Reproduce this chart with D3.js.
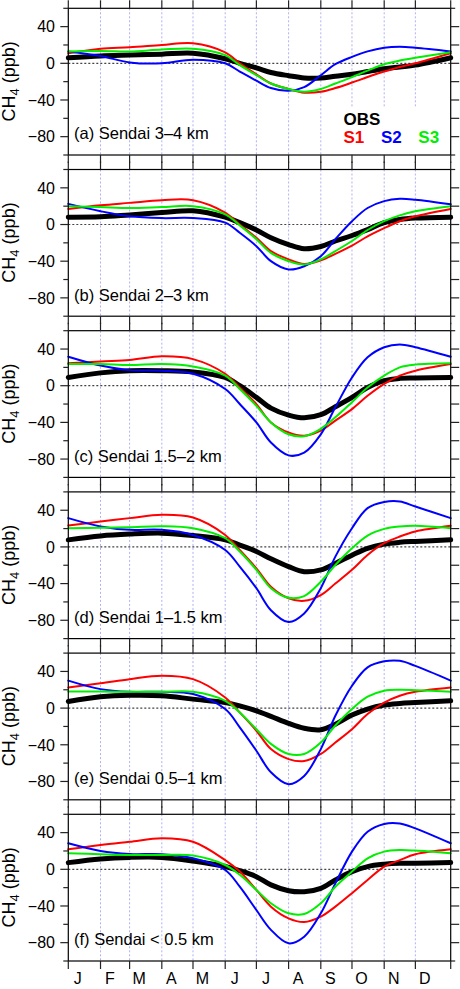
<!DOCTYPE html>
<html>
<head>
<meta charset="utf-8">
<script src="https://cdn.jsdelivr.net/npm/d3@7"></script>
<style>
  body { margin: 0; background: #fff; }
  svg { display: block; }
  text { font-family: "Liberation Sans", Arial, Helvetica, sans-serif; }
</style>
</head>
<body>
<svg id="chart" width="460" height="989"></svg>
<script>
// jours de l'année où les courbes ont été relevées (axe : 0 = 1er janvier)
const days = [0, 31, 59, 90, 120, 151, 165, 181, 195, 212, 227, 243, 257, 273, 288, 304, 319, 334, 368];
const monthStarts = [0, 31, 59, 90, 120, 151, 181, 212, 243, 273, 304, 334];
const monthLabels = ["J", "F", "M", "A", "M", "J", "J", "A", "S", "O", "N", "D"];
const yTicks = [-100, -80, -60, -40, -20, 0, 20, 40, 60];
const yTickLabels = [-80, -40, 0, 40];

const panelTitles = [
  "(a) Sendai 3\u20134 km",
  "(b) Sendai 2\u20133 km",
  "(c) Sendai 1.5\u20132 km",
  "(d) Sendai 1\u20131.5 km",
  "(e) Sendai 0.5\u20131 km",
  "(f) Sendai < 0.5 km"
];

const seriesNames = ["OBS", "S1", "S2", "S3"];
const seriesColors = ["#000000", "#ff0000", "#0000ff", "#00ee00"];
const seriesWidths = [5, 2, 2, 2];

// (a) 3-4 km
const obsA = [6, 8, 9, 10, 11, 5, 0, -5, -10, -13.5, -16, -16, -14, -12, -9, -6, -4, -2, 6];
const s1A  = [11, 16, 17.5, 20, 22, 12, 0, -12, -22, -28, -32, -31, -27, -21, -15, -9, -4, 0, 11];
const s2A  = [13, 8, 1, 0, 4, 0, -9, -19, -27, -30, -26, -13, -1, 7, 13, 17, 18, 17, 13];
const s3A  = [13, 13.5, 13, 15, 16, 9, -2, -13, -22, -28, -31, -28, -22, -15, -8, -1, 3, 6, 12];

// (b) 2-3 km
const obsB = [8, 8.4, 10.5, 13, 15, 8, 2, -6, -14.5, -22, -26.5, -24, -18, -12, -5.5, 2, 5.5, 7, 8];
const s1B  = [17, 21, 23.6, 26.5, 26.5, 13, 0, -14.5, -29, -38, -43, -39, -32, -23, -13, -4, 3.6, 9, 17];
const s2B  = [22.5, 14.5, 9, 7, 7, 2, -9, -23.6, -40, -49, -45.5, -34.5, -16, 3.6, 18, 25.5, 28, 27, 22];
const s3B  = [20, 19, 18, 19, 20, 11, -1, -16, -31, -40, -43.6, -38, -29, -18, -6, 3.6, 10, 14.5, 20];

// (c) 1.5-2 km
const obsC = [9, 14, 16.4, 16.4, 15, 9, 0, -12.7, -24.4, -32, -35, -31.6, -23, -12.7, -2, 5.5, 8, 8.4, 9];
const s1C  = [24.4, 26.5, 28, 32, 29, 13, -2, -20, -40, -51, -54.5, -49, -38, -25.5, -11, 2, 11, 16.4, 23.6];
const s2C  = [31.6, 22, 17, 16.4, 13, -3.6, -20, -40, -62, -76, -73, -53, -23.6, 9, 31, 42, 45, 42, 31.6];
const s3C  = [23.6, 23.6, 22.5, 23.6, 21, 11, -3.6, -22, -40, -53, -55, -47, -34.5, -18, -2, 11, 20, 23, 24.4];

// (d) 1-1.5 km
const obsD = [7.7, 12, 14, 15, 12.4, 7.7, 2, -5, -13, -21.5, -27, -25, -18, -9, -1.5, 3, 5, 6, 7.7];
const s1D  = [23.4, 27.7, 31.4, 35, 32, 13, -3.3, -23.4, -43.4, -56, -58.8, -52.6, -40, -25, -8.8, 4, 11.3, 16.8, 23];
const s2D  = [31.4, 22.3, 18.6, 18.6, 13, -3.3, -21.5, -45, -69, -82, -72.6, -45, -10.6, 20.4, 42.3, 49, 49.6, 44, 31.4];
const s3D  = [20.4, 21, 21.5, 22.6, 20.4, 9.5, -5, -25, -45, -55.5, -53.6, -38, -19.7, -1.5, 12.4, 19.7, 22.3, 23, 20.4];

// (e) 0.5-1 km
const obsE = [7.3, 12.4, 14, 13.5, 9.8, 6, 2.5, -3, -9, -16.7, -22, -23.6, -17.5, -7.6, -1, 3.3, 5, 6, 8];
const s1E  = [22.5, 27, 31.6, 35.3, 31.6, 11.6, -4.7, -24.7, -44.7, -55.6, -57.8, -50, -37.5, -23, -6.5, 6, 13.5, 17.8, 22.5];
const s2E  = [30, 20.7, 17.8, 17.8, 15.3, -1, -21, -46.5, -70, -83, -74, -44.7, -8.4, 24.4, 44.4, 51, 51.6, 46, 30];
const s3E  = [18, 18, 17.8, 17.8, 17.8, 8, -4.7, -23, -39, -50, -50, -37.5, -19, -1, 12.4, 19, 20, 19.6, 17.8];

// (f) < 0.5 km
const obsF = [7.3, 11.3, 13, 13, 9, 3, -1.5, -8, -17, -23.3, -24.4, -20.7, -11.6, -2.5, 3, 5.5, 6.5, 6.5, 7.3];
const s1F  = [21.8, 26.5, 30, 33.8, 30, 10, -2.5, -22.5, -40.7, -53.5, -57.5, -51.6, -40.7, -26, -11.6, 3, 10, 16.4, 21.8];
const s2F  = [28.4, 20, 16.7, 16.4, 12, -0.7, -19, -44.4, -66, -80.7, -73.5, -48, -15.3, 19.3, 41, 49.5, 50, 44.7, 28.4];
const s3F  = [17.5, 16.4, 15.6, 15.6, 15, 4.7, -6, -22.5, -37, -48, -48.7, -37, -19, -2.5, 12, 19.3, 21, 20.4, 17.5];

const panelSeries = [
  [obsA, s1A, s2A, s3A],
  [obsB, s1B, s2B, s3B],
  [obsC, s1C, s2C, s3C],
  [obsD, s1D, s2D, s3D],
  [obsE, s1E, s2E, s3E],
  [obsF, s1F, s2F, s3F]
];

// géométrie
const left = 68.3, right = 450.7;
const firstTop = 8.3, pitch = 161.2, panelH = 146.7;

const svg = d3.select("#chart");

const x = d3.scaleLinear().domain([0, 368]).range([left, right]);
const line = (y) => d3.line()
  .x((d, i) => x(days[i]))
  .y(d => y(d))
  .curve(d3.curveCatmullRom.alpha(0.5));

panelSeries.forEach((series, p) => {
  const top = firstTop + p * pitch;
  const bottom = top + panelH;
  const y = d3.scaleLinear().domain([-100, 60]).range([bottom, top]);
  const g = svg.append("g");

  // lignes verticales pointillées bleues (début de mois)
  g.selectAll(".vgrid")
    .data(monthStarts.slice(1))
    .enter().append("line")
      .attr("x1", d => x(d)).attr("x2", d => x(d))
      .attr("y1", top).attr("y2", bottom)
      .attr("stroke", "#9c9cf2")
      .attr("stroke-width", 0.8)
      .attr("stroke-dasharray", "2,2");

  // ligne du zéro
  g.append("line")
    .attr("x1", left).attr("x2", right)
    .attr("y1", y(0)).attr("y2", y(0))
    .attr("stroke", "#444")
    .attr("stroke-width", 1.2)
    .attr("stroke-dasharray", "2,2");

  // légende (panneau a seulement), fond blanc par-dessus la grille
  if (p === 0) {
    g.append("rect")
      .attr("x", 340).attr("y", top + 99)
      .attr("width", 104).attr("height", panelH - 100)
      .attr("fill", "#fff");
  }

  // courbes
  series.forEach((vals, s) => {
    g.append("path")
      .attr("d", line(y)(vals))
      .attr("fill", "none")
      .attr("stroke", seriesColors[s])
      .attr("stroke-width", seriesWidths[s])
      .attr("stroke-linejoin", "round")
      .attr("stroke-linecap", "round");
  });

  if (p === 0) {
    g.append("text")
      .attr("x", 343.5).attr("y", top + 117)
      .attr("font-size", 17).attr("font-weight", "bold")
      .attr("fill", seriesColors[0])
      .text(seriesNames[0]);
    [343.5, 381, 418.3].forEach((lx, k) => {
      g.append("text")
        .attr("x", lx).attr("y", top + 135)
        .attr("font-size", 17).attr("font-weight", "bold")
        .attr("fill", seriesColors[k + 1])
        .text(seriesNames[k + 1]);
    });
  }

  // cadre
  g.append("rect")
    .attr("x", left).attr("y", top)
    .attr("width", right - left).attr("height", panelH)
    .attr("fill", "none")
    .attr("stroke", "#000")
    .attr("stroke-width", 1.2);

  // graduations y (gauche et droite, vers l'extérieur)
  g.selectAll(".ytl")
    .data(yTicks)
    .enter().append("line")
      .attr("x1", d => left - (yTickLabels.includes(d) ? 8 : 5)).attr("x2", left)
      .attr("y1", d => y(d)).attr("y2", d => y(d))
      .attr("stroke", "#222").attr("stroke-width", 1.2);
  g.selectAll(".ytr")
    .data(yTicks)
    .enter().append("line")
      .attr("x1", right).attr("x2", d => right + (d === 60 || d === -100 ? 4.5 : 8.5))
      .attr("y1", d => y(d)).attr("y2", d => y(d))
      .attr("stroke", "#222").attr("stroke-width", 1.2);

  g.selectAll(".ylab")
    .data(yTickLabels)
    .enter().append("text")
      .attr("x", 55).attr("y", d => y(d))
      .attr("dy", "0.36em")
      .attr("text-anchor", "end")
      .attr("font-size", 16)
      .text(d => d < 0 ? "\u2212" + Math.abs(d) : d);

  // graduations x (au-dessus et au-dessous du cadre)
  const xt = monthStarts.concat([368]);
  g.selectAll(".xtt")
    .data(xt)
    .enter().append("line")
      .attr("x1", d => x(d)).attr("x2", d => x(d))
      .attr("y1", top - 8).attr("y2", top)
      .attr("stroke", "#222").attr("stroke-width", 1.2);
  g.selectAll(".xtb")
    .data(xt)
    .enter().append("line")
      .attr("x1", d => x(d)).attr("x2", d => x(d))
      .attr("y1", bottom).attr("y2", bottom + 8)
      .attr("stroke", "#222").attr("stroke-width", 1.2);

  // titre du panneau
  g.append("text")
    .attr("x", 74).attr("y", top + 131)
    .attr("font-size", 16.5)
    .text(panelTitles[p]);

  // titre de l'axe y : CH4 (ppb)
  const yl = g.append("text")
    .attr("transform", `translate(15,${top + 73}) rotate(-90)`)
    .attr("text-anchor", "middle")
    .attr("font-size", 18);
  yl.append("tspan").text("CH");
  yl.append("tspan").attr("font-size", 13).attr("dy", 4).text("4");
  yl.append("tspan").attr("dy", -4).text(" (ppb)");
});

// étiquettes des mois sous le dernier panneau
svg.selectAll(".mlab")
  .data(monthStarts)
  .enter().append("text")
    .attr("x", d => x(d) + 9.5)
    .attr("y", 984)
    .attr("text-anchor", "middle")
    .attr("font-size", 16)
    .text((d, i) => monthLabels[i]);
</script>
</body>
</html>
